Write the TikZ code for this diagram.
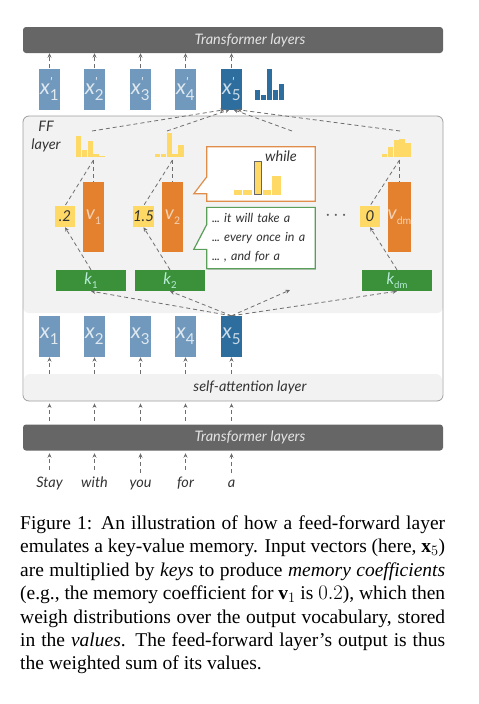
\documentclass[tikz,border=0pt]{standalone}
\usepackage{graphicx}
\usepackage{fontspec}
\setmainfont{Liberation Serif}
\newfontfamily\diagfont{Lato}
\usetikzlibrary{calc,arrows.meta,shadows}

\definecolor{barGray}{HTML}{666666}
\definecolor{xLight}{HTML}{7199BD}
\definecolor{xDark}{HTML}{2E6E9E}
\definecolor{valOrange}{HTML}{E3812F}
\definecolor{keyGreen}{HTML}{3A913A}
\definecolor{keyText}{HTML}{B8ECD8}
\definecolor{coefYellow}{HTML}{FFD966}
\definecolor{ffFill}{HTML}{F2F2F2}
\definecolor{lineGray}{HTML}{6E6E6E}
\definecolor{callOrange}{HTML}{E08D4C}
\definecolor{callGreen}{HTML}{5A9E5A}
\definecolor{txtDark}{HTML}{333333}

\newcommand{\lbl}[3][0.6]{#2\raisebox{-0.28em}{\scalebox{#1}{\upshape #3}}}
\newcommand{\plbl}[2]{#1\rlap{\raisebox{0.42em}{\scalebox{0.6}{'}}}\raisebox{-0.28em}{\scalebox{0.72}{\upshape #2}}}
\newcommand{\dts}{.\kern-0.4pt.\kern-0.4pt.}

\tikzset{
	lay/.style={fill=barGray, rounded corners=3pt, minimum width=420pt, minimum height=26pt,
		text=white!82!barGray, font=\diagfont\itshape\fontsize{14.5}{14.5}\selectfont},
	outer/.style={draw=black!38, line width=0.8pt, rounded corners=6pt, minimum width=420pt, minimum height=285pt},
	saband/.style={fill=ffFill, rounded corners=6pt, minimum width=418pt, minimum height=27pt,
		text=txtDark, font=\diagfont\itshape\fontsize{14.5}{14.5}\selectfont},
	fflbl/.style={align=center, text=txtDark, font=\diagfont\itshape\fontsize{14.5}{18}\selectfont},
	xbox/.style={fill=xLight, minimum width=21pt, minimum height=41pt, inner sep=0pt,
		text=white!78!xLight, font=\diagfont\itshape\fontsize{21}{21}\selectfont},
	xboxsel/.style={xbox, fill=xDark, text=white!75!xDark},
	vbox/.style={fill=valOrange, minimum width=21pt, minimum height=70pt, inner sep=0pt,
		text=white!65!valOrange, font=\diagfont\itshape\fontsize{19}{19}\selectfont},
	kbox/.style={fill=keyGreen, minimum width=70pt, minimum height=21pt, inner sep=0pt,
		text=keyText, font=\diagfont\itshape\fontsize{16}{16}\selectfont},
	cbox/.style={fill=coefYellow, minimum height=21pt, minimum width=20pt, inner sep=0pt,
		text=txtDark, font=\diagfont\itshape\fontsize{15}{15}\selectfont},
	word/.style={anchor=base, text=txtDark, font=\diagfont\itshape\fontsize{14.5}{14.5}\selectfont},
	link/.style={lineGray, line width=0.8pt, dash pattern=on 4pt off 3pt},
	dlink/.style={link, -{Stealth[length=4.5pt,width=4pt]}},
	callbox/.style={fill=white, draw=none, inner sep=6pt,
		drop shadow={shadow xshift=1.2pt, shadow yshift=-1.2pt, opacity=0.3}},
	caption/.style={anchor=north west, inner sep=0pt, text width=425pt, align=justify,
		font=\fontsize{19.5}{23.4}\selectfont},
}

\begin{document}
\begin{tikzpicture}[x=1pt,y=-1pt]

	\useasboundingbox (0,0) rectangle (479,704);

	% transformer layers
	\node[lay] (tbar) at (233,40) {\hspace*{34pt}Transformer layers};
	\node[lay] (bbar) at (233,437.5) {\hspace*{34pt}Transformer layers};

	% feed-forward block
	\fill[ffFill, rounded corners=6pt] (23,116) rectangle (443,313);
	\node[saband] (sa) at (233,387.5) {\hspace*{34pt}self-attention layer};
	\node[outer] (ff) at (233,258.5) {};
	\node[fflbl] (ffname) at (46,137) {FF\\layer};

	% output vectors
	\node[xbox] (xo1) at (49.5,89) {\plbl{x}{1}};
	\node[xbox] (xo2) at (94.5,89) {\plbl{x}{2}};
	\node[xbox] (xo3) at (140.5,89) {\plbl{x}{3}};
	\node[xbox] (xo4) at (185.5,89) {\plbl{x}{4}};
	\node[xboxsel] (xo5) at (231.5,89) {\plbl{x}{5}};
	\foreach \h [count=\i from 0] in {10,5,31,10,16}
		\fill[xDark] ({255+\i*6},100) rectangle ++(5.4,-\h);

	% input vectors
	\node[xbox] (xs1) at (49.5,336.5) {\lbl[0.72]{x}{1}};
	\node[xbox] (xs2) at (94.5,336.5) {\lbl[0.72]{x}{2}};
	\node[xbox] (xs3) at (140.5,336.5) {\lbl[0.72]{x}{3}};
	\node[xbox] (xs4) at (185.5,336.5) {\lbl[0.72]{x}{4}};
	\node[xboxsel] (xs5) at (231.5,336.5) {\lbl[0.72]{x}{5}};

	% words
	\node[word] (w1) at (49.5,487) {Stay};
	\node[word] (w2) at (94.5,487) {with};
	\node[word] (w3) at (140.5,487) {you};
	\node[word] (w4) at (185.5,487) {for};
	\node[word] (w5) at (231.5,487) {a};

	% keys, values and coefficients
	\node[kbox] (k1) at (91,280.5) {\lbl{k}{1}};
	\node[kbox] (k2) at (170,280.5) {\lbl{k}{2}};
	\node[kbox] (kdm) at (397,280.5) {\lbl{k}{dm}};
	\coordinate (kmid) at (290,290);

	\node[vbox] (v1) at (93.5,217) {\lbl[0.55]{v}{1}};
	\node[vbox] (v2) at (172.5,217) {\lbl[0.55]{v}{2}};
	\node[vbox] (vdm) at (399.5,217) {\lbl[0.55]{v}{dm}};

	\node[cbox] (c1) at (65,216.5) {.2};
	\node[cbox] (c2) at (143.5,216.5) {1.5};
	\node[cbox] (cdm) at (370,216.5) {0};
	\node[text=txtDark!80, font=\diagfont\fontsize{14}{14}\selectfont] (dots) at (336,217)
		{·\hspace{4.5pt}·\hspace{4.5pt}·};

	% value distributions
	\foreach \h [count=\i from 0] in {21,7,16,3,1.2}
		\fill[coefYellow] ({76+\i*5.8},157) rectangle ++(5.3,-\h);
	\foreach \h [count=\i from 0] in {3,3,24,3,12}
		\fill[coefYellow] ({155+\i*5.8},157) rectangle ++(5.3,-\h);
	\foreach \h [count=\i from 0] in {3,10,17,18,14}
		\fill[coefYellow] ({382+\i*5.8},157) rectangle ++(5.3,-\h);

	\coordinate (h1) at (93.5,160);
	\coordinate (h2) at (172.5,160);
	\coordinate (hdm) at (399.5,160);
	\coordinate (h1t) at (92,131);
	\coordinate (h2t) at (167,131);
	\coordinate (hmid) at (292,131);
	\coordinate (hdmt) at (400,131);

	% callout: top token
	\node[callbox, minimum width=108pt, minimum height=54pt] (wb) at (261,174) {};
	\fill[white] ($(wb.north west)+(0.6,30)$) -- ($(wb.north west)+(-13,47)$) -- ($(wb.north west)+(0.6,47)$) -- cycle;
	\draw[callOrange, line width=1.2pt] ($(wb.north west)+(0,30)$) -- (wb.north west) -- (wb.north east)
		-- (wb.south east) -- (wb.south west) -- ($(wb.north west)+(0,47)$)
		-- ($(wb.north west)+(-13,47)$) -- cycle;
	\fill[coefYellow] (234,194.5) rectangle ++(8,-4.3);
	\fill[coefYellow] (243,194.5) rectangle ++(8.5,-4.3);
	\filldraw[fill=coefYellow, draw=txtDark!75, line width=0.8pt] (254,194.5) rectangle ++(7,-33.5);
	\fill[coefYellow] (263,194.5) rectangle ++(8,-4.3);
	\fill[coefYellow] (272,194.5) rectangle ++(9,-18.5);
	\node[text=txtDark, font=\diagfont\itshape\fontsize{14.5}{14.5}\selectfont] (wtok) at (281,156) {while};

	% callout: prefixes
	\node[callbox, text width=98pt, align=left, inner xsep=5pt, minimum height=58pt, text=txtDark,
		font=\diagfont\itshape\fontsize{12.5}{19}\selectfont] (gb) at (261,238)
		{\mbox{\dts\ it will take a}\\\mbox{\dts\ every once in a}\\\mbox{\dts\ , and for a}};
	\fill[white] ($(gb.north west)+(0.6,17)$) -- ($(gb.north west)+(-13,42)$) -- ($(gb.north west)+(0.6,42)$) -- cycle;
	\draw[callGreen, line width=1.2pt] ($(gb.north west)+(0,17)$) -- (gb.north west) -- (gb.north east)
		-- (gb.south east) -- (gb.south west) -- ($(gb.north west)+(0,42)$)
		-- ($(gb.north west)+(-13,42)$) -- cycle;

	% connectors
	\foreach \i in {1,...,5} {
		\draw[dlink] (xo\i) -- (xo\i |- tbar.south);
		\draw[dlink] (xs\i |- sa.north) -- (xs\i.south);
		\draw[dlink, shorten <=3.5pt, shorten >=2pt] (xs\i |- bbar.north) -- (xs\i |- ff.south);
		\draw[dlink, shorten <=3pt, shorten >=2.5pt] (w\i.north) -- (w\i |- bbar.south);
	}

	\draw[dlink] (xs5.north) -- (k1.south);
	\draw[dlink] (xs5.north) -- (k2.south);
	\draw[dlink] (xs5.north) -- (kmid);
	\draw[dlink] (xs5.north) -- (kdm.south);

	\draw[dlink] (k1.north) -- (c1.south);
	\draw[dlink] (k2.north) -- (c2.south);
	\draw[dlink] (kdm.north) -- (cdm.south);

	\draw[link] (h1) -- (v1.north);
	\draw[link] (h1) -- (c1.north);
	\draw[link] (h2) -- (v2.north);
	\draw[link] (h2) -- (c2.north);
	\draw[link] (hdm) -- (vdm.north);
	\draw[link] (hdm) -- (cdm.north);

	\draw[dlink] (h1t) -- ([xshift=-7pt]xo5.south);
	\draw[dlink] (h2t) -- ([xshift=-2pt]xo5.south);
	\draw[dlink] (hmid) -- ([xshift=2pt]xo5.south);
	\draw[dlink] (hdmt) -- ([xshift=6pt]xo5.south);

	% caption
	\node[caption] (cap) at (20,515.5) {Figure 1: An illustration of how a feed-forward layer\linebreak
		emulates a key-value memory. Input vectors (here, $\mathbf{x}_5$)\linebreak
		are multiplied by \emph{keys} to produce \emph{memory coefficients}\linebreak
		(e.g., the memory coefficient for $\mathbf{v}_1$ is $0.2$), which then\linebreak
		weigh distributions over the output vocabulary, stored\linebreak
		in the \emph{values}. The feed-forward layer's output is thus\linebreak
		the weighted sum of its values.};

\end{tikzpicture}
\end{document}
